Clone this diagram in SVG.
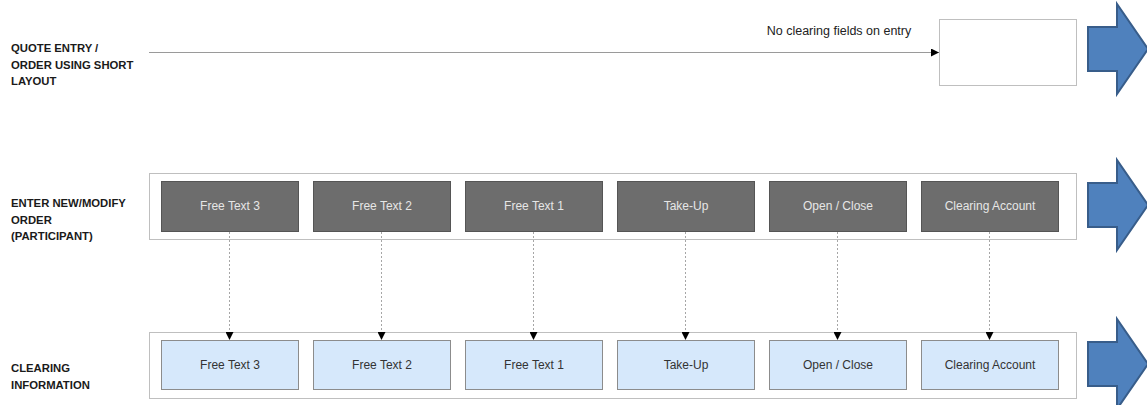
<svg xmlns="http://www.w3.org/2000/svg" width="1147" height="405" viewBox="0 0 1147 405">
<style>
.lbl{font-family:"Liberation Sans",Arial,sans-serif;font-weight:bold;font-size:11.3px;fill:#1a1a1a}
.cont{fill:#fff;stroke:#bfbfbf;stroke-width:1}
.dark{fill:#6d6d6d;stroke:#555;stroke-width:1}
.light{fill:#d6e8fb;stroke:#8c8c8c;stroke-width:1}
.dt{font-family:"Liberation Sans",Arial,sans-serif;font-size:12px;fill:#e6e6e6;text-anchor:middle}
.lt{font-family:"Liberation Sans",Arial,sans-serif;font-size:12px;fill:#333;text-anchor:middle}
.blue{fill:#4f81bd;stroke:#385d8a;stroke-width:2}
.dash{stroke:#a6a6a6;stroke-width:1;stroke-dasharray:2,2;fill:none}
</style>
<defs>
<marker id="ah" markerWidth="8" markerHeight="8" refX="8" refY="4" orient="auto" markerUnits="userSpaceOnUse">
<path d="M0,0 L8,4 L0,8 Z" fill="#000"/>
</marker>
</defs>
<g id="labels">
<text class="lbl" x="11" y="52">QUOTE ENTRY /</text>
<text class="lbl" x="11" y="68.5">ORDER USING SHORT</text>
<text class="lbl" x="11" y="85">LAYOUT</text>
<text class="lbl" x="11" y="207">ENTER NEW/MODIFY</text>
<text class="lbl" x="11" y="223.5">ORDER</text>
<text class="lbl" x="11" y="240">(PARTICIPANT)</text>
<text class="lbl" x="11" y="372">CLEARING</text>
<text class="lbl" x="11" y="388.5">INFORMATION</text>
</g>
<g id="short-layout-box">
<rect class="cont" x="939.5" y="19.5" width="137" height="66"/>
</g>
<g id="participant-row">
<rect class="cont" x="149.5" y="173.5" width="927" height="66"/>
</g>
<g id="clearing-row">
<rect class="cont" x="149.5" y="332.5" width="927" height="66"/>
</g>
<g id="p1"><rect class="dark" x="161.5" y="181.5" width="137" height="50"/><text class="dt" x="230" y="210">Free Text 3</text></g>
<g id="p2"><rect class="dark" x="313.5" y="181.5" width="137" height="50"/><text class="dt" x="382" y="210">Free Text 2</text></g>
<g id="p3"><rect class="dark" x="465.5" y="181.5" width="137" height="50"/><text class="dt" x="534" y="210">Free Text 1</text></g>
<g id="p4"><rect class="dark" x="617.5" y="181.5" width="137" height="50"/><text class="dt" x="686" y="210">Take-Up</text></g>
<g id="p5"><rect class="dark" x="769.5" y="181.5" width="137" height="50"/><text class="dt" x="838" y="210">Open / Close</text></g>
<g id="p6"><rect class="dark" x="921.5" y="181.5" width="137" height="50"/><text class="dt" x="990" y="210">Clearing Account</text></g>
<g id="c1"><rect class="light" x="161.5" y="340.5" width="137" height="49"/><text class="lt" x="230" y="369">Free Text 3</text></g>
<g id="c2"><rect class="light" x="313.5" y="340.5" width="137" height="49"/><text class="lt" x="382" y="369">Free Text 2</text></g>
<g id="c3"><rect class="light" x="465.5" y="340.5" width="137" height="49"/><text class="lt" x="534" y="369">Free Text 1</text></g>
<g id="c4"><rect class="light" x="617.5" y="340.5" width="137" height="49"/><text class="lt" x="686" y="369">Take-Up</text></g>
<g id="c5"><rect class="light" x="769.5" y="340.5" width="137" height="49"/><text class="lt" x="838" y="369">Open / Close</text></g>
<g id="c6"><rect class="light" x="921.5" y="340.5" width="137" height="49"/><text class="lt" x="990" y="369">Clearing Account</text></g>
<g id="flow-arrows">
<path class="blue" d="M1088,27 H1117 V4 L1148,49 L1117,94 V71 H1088 Z"/>
<path class="blue" d="M1088,183 H1117 V160 L1148,205 L1117,250 V227 H1088 Z"/>
<path class="blue" d="M1088,342 H1117 V319 L1148,364 L1117,409 V386 H1088 Z"/>
</g>
<g id="connectors">
<line x1="149" y1="52.5" x2="939" y2="52.5" stroke="#9a9a9a" stroke-width="1" marker-end="url(#ah)"/>
<text x="839" y="35" font-family="Liberation Sans, Arial, sans-serif" font-size="12.5" fill="#222" text-anchor="middle">No clearing fields on entry</text>
<line class="dash" x1="229.5" y1="232" x2="229.5" y2="340" marker-end="url(#ah)"/>
<line class="dash" x1="381.5" y1="232" x2="381.5" y2="340" marker-end="url(#ah)"/>
<line class="dash" x1="533.5" y1="232" x2="533.5" y2="340" marker-end="url(#ah)"/>
<line class="dash" x1="685.5" y1="232" x2="685.5" y2="340" marker-end="url(#ah)"/>
<line class="dash" x1="837.5" y1="232" x2="837.5" y2="340" marker-end="url(#ah)"/>
<line class="dash" x1="989.5" y1="232" x2="989.5" y2="340" marker-end="url(#ah)"/>
</g>
</svg>
